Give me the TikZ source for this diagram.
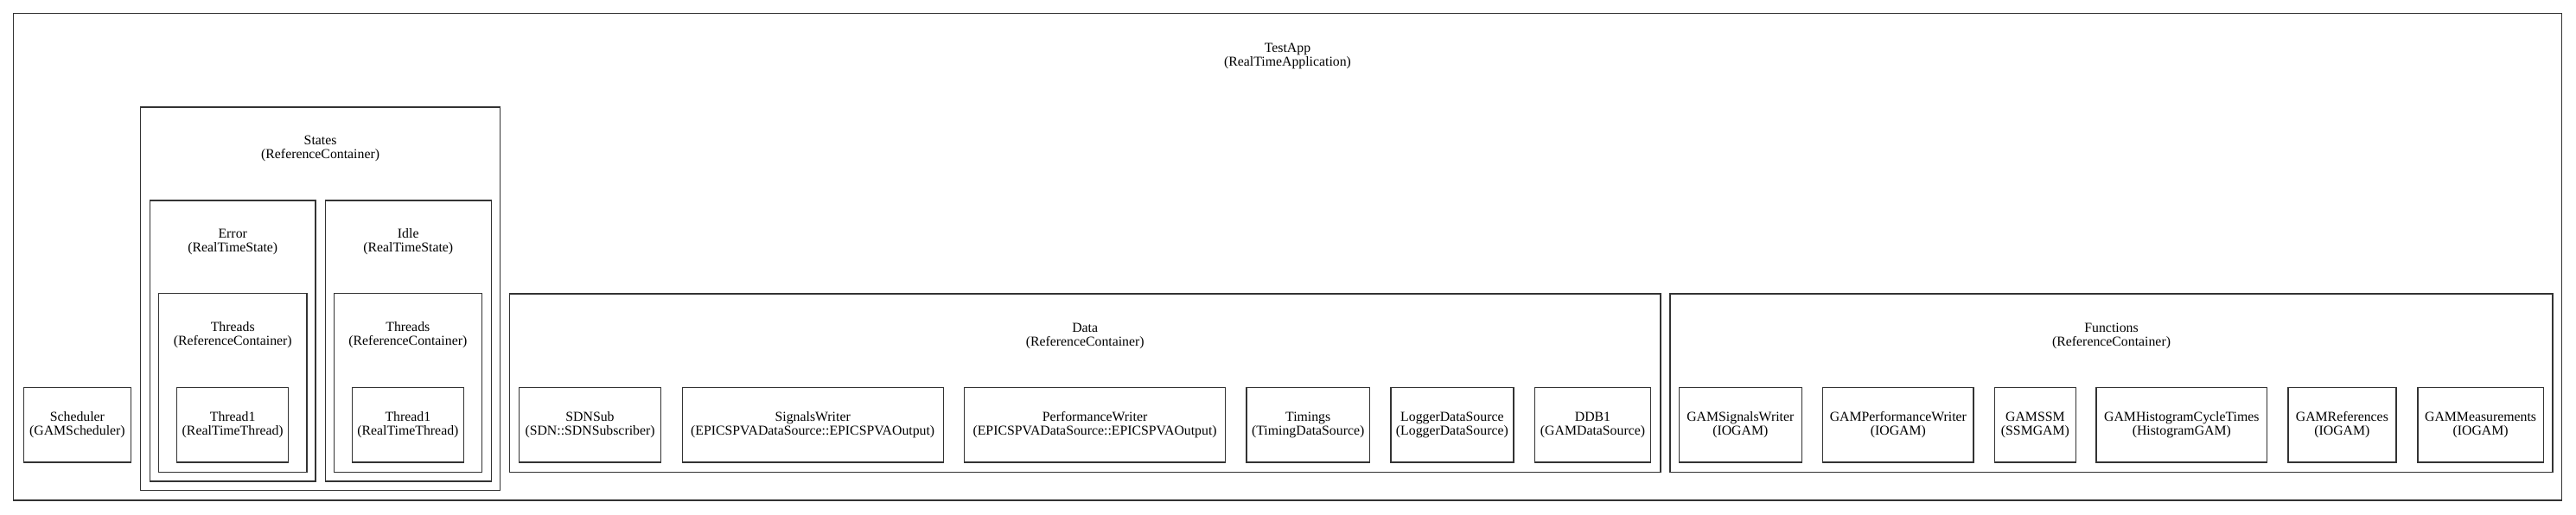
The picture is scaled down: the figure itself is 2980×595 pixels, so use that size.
\documentclass[tikz,border=0pt]{standalone}
\usepackage{fontspec}
\setmainfont{Liberation Serif}
\tikzset{
  gb/.style={draw=black!80, line width=1.4pt, rectangle, inner sep=0pt, outer sep=0pt, align=center,
    font=\fontsize{15.8}{16}\selectfont},
  ttl/.style={inner sep=0pt, align=center, font=\fontsize{15.8}{16}\selectfont}
}
\newcommand\gbox[6]{%
  \node[gb, minimum width={#4pt-#2pt}, minimum height={#5pt-#3pt}] (#1) at ({(#2+#4)/2},{-(#3+#5)/2}) {#6};}
\newcommand\gttl[4]{%
  \node[ttl] (#1) at (#2,{-#3}) {#4};}
\begin{document}
\begin{tikzpicture}[x=1pt,y=1pt]
\useasboundingbox (0,0) rectangle (2980,-595);
% outer
\gbox{testapp}{15.7}{15.7}{2963.3}{579}{}
\gttl{testappT}{1489.5}{64.5}{TestApp\\(RealTimeApplication)}
% scheduler
\gbox{scheduler}{27.6}{448.7}{151.2}{535}{Scheduler\\(GAMScheduler)}
% states
\gbox{states}{162.6}{124}{578.6}{567.7}{}
\gttl{statesT}{370.6}{172}{States\\(ReferenceContainer)}
\gbox{error}{173.4}{232}{365.1}{557}{}
\gttl{errorT}{269.25}{280}{Error\\(RealTimeState)}
\gbox{idle}{376.2}{232}{568.3}{557}{}
\gttl{idleT}{472.25}{280}{Idle\\(RealTimeState)}
\gbox{threadsE}{183.7}{339.3}{354.8}{546.3}{}
\gttl{threadsET}{269.25}{388}{Threads\\(ReferenceContainer)}
\gbox{threadsI}{386.5}{339.3}{557.2}{546.3}{}
\gttl{threadsIT}{471.85}{388}{Threads\\(ReferenceContainer)}
\gbox{thread1E}{204.7}{448.7}{333.7}{535}{Thread1\\(RealTimeThread)}
\gbox{thread1I}{407.6}{448.7}{536.2}{535}{Thread1\\(RealTimeThread)}
% data
\gbox{data}{589.3}{340}{1921.1}{546.7}{}
\gttl{dataT}{1255.2}{389}{Data\\(ReferenceContainer)}
\gbox{sdnsub}{600.4}{448.7}{764.7}{535}{SDNSub\\(SDN::SDNSubscriber)}
\gbox{sigwriter}{789.2}{448.7}{1091.2}{535}{SignalsWriter\\(EPICSPVADataSource::EPICSPVAOutput)}
\gbox{perfwriter}{1115.7}{448.7}{1417.5}{535}{PerformanceWriter\\(EPICSPVADataSource::EPICSPVAOutput)}
\gbox{timings}{1442}{448.7}{1584.4}{535}{Timings\\(TimingDataSource)}
\gbox{logger}{1608.9}{448.7}{1750.8}{535}{LoggerDataSource\\(LoggerDataSource)}
\gbox{ddb}{1775.3}{448.7}{1909.7}{535}{DDB1\\(GAMDataSource)}
% functions
\gbox{functions}{1932}{340}{2953.1}{546.7}{}
\gttl{functionsT}{2442.55}{389}{Functions\\(ReferenceContainer)}
\gbox{gsw}{1942.3}{448.7}{2084.3}{535}{GAMSignalsWriter\\(IOGAM)}
\gbox{gpw}{2108.6}{448.7}{2283.1}{535}{GAMPerformanceWriter\\(IOGAM)}
\gbox{gssm}{2307.4}{448.7}{2401.4}{535}{GAMSSM\\(SSMGAM)}
\gbox{ghist}{2425.1}{448.7}{2622.5}{535}{GAMHistogramCycleTimes\\(HistogramGAM)}
\gbox{gref}{2646.8}{448.7}{2771.9}{535}{GAMReferences\\(IOGAM)}
\gbox{gmeas}{2796.9}{448.7}{2942.3}{535}{GAMMeasurements\\(IOGAM)}
\end{tikzpicture}
\end{document}
